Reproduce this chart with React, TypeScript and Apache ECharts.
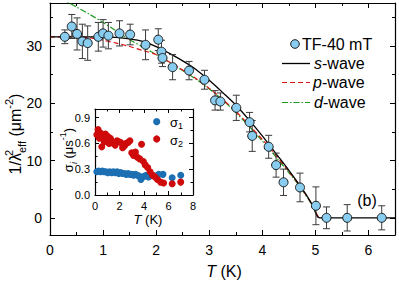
import React, { useEffect, useRef } from "react";
import * as echarts from "echarts";

// Main panel: TF-40 mT data
const T_DATA = [0.28, 0.41, 0.51, 0.61, 0.71, 0.91, 1.0, 1.1, 1.31, 1.51, 1.8, 2.04, 2.1, 2.12, 2.31, 2.62, 2.91, 3.11, 3.21, 3.51, 3.76, 3.81, 4.12, 4.26, 4.4, 4.71, 5.01, 5.21, 5.6, 6.25];
const LAMBDA_DATA = [31.6, 33.4, 32.1, 30.8, 30.5, 31.6, 32.2, 31.8, 32.2, 32.0, 30.2, 31.1, 29.0, 27.9, 26.3, 25.7, 24.1, 20.5, 20.3, 19.2, 16.7, 14.3, 12.4, 9.2, 6.2, 5.3, 2.1, 0, 0, 0];
const LAMBDA_ERR = [1.2, 2.1, 2.8, 3.0, 3.0, 2.5, 2.4, 2.3, 2.2, 1.8, 2.6, 1.9, 2.0, 1.5, 2.2, 1.6, 1.65, 1.7, 1.5, 2.2, 1.7, 2.7, 2.0, 2.1, 2.3, 2.5, 3.3, 1.9, 2.3, 2.1];

// Fit curves
const S_T = [0, 0.5, 1.0, 1.25, 1.5, 1.75, 2.0, 2.25, 2.5, 2.75, 3.0, 3.25, 3.5, 3.75, 4.0, 4.25, 4.5, 4.75, 4.95, 5.08, 6.5];
const S_Y = [31.6, 31.6, 31.6, 31.5, 31.25, 30.8, 29.9, 28.7, 27.4, 25.9, 24.0, 21.9, 19.7, 17.1, 14.3, 11.3, 8.3, 5.1, 2.2, 0, 0];
const P_T = [0, 0.5, 0.75, 1.0, 1.25, 1.5, 1.75, 2.0, 2.25, 2.5, 2.75, 3.0, 3.25, 3.5, 3.75, 4.0, 4.25, 4.5, 4.75, 4.95, 5.06];
const P_Y = [31.6, 31.6, 31.4, 31.0, 30.5, 29.9, 29.2, 28.5, 27.2, 25.8, 24.3, 22.6, 20.7, 18.6, 16.2, 13.7, 11.0, 8.1, 5.0, 2.1, 0];
const D_T = [0, 0.25, 0.5, 0.75, 1.0, 1.25, 1.5, 1.75, 2.0, 2.25, 2.5, 2.75, 3.0, 3.25, 3.5, 3.75, 4.0, 4.25, 4.5, 4.75, 4.95, 5.06];
const D_Y = [39.2, 38.0, 36.8, 35.5, 34.1, 32.6, 31.1, 29.8, 28.5, 27.1, 25.7, 24.2, 22.5, 20.6, 18.4, 16.0, 13.4, 10.7, 7.9, 4.9, 2.0, 0];

// Inset: sigma_1 and sigma_2
const SIG1_T = [0.15, 0.3, 0.45, 0.6, 0.75, 0.9, 1.05, 1.2, 1.35, 1.5, 1.65, 1.8, 1.95, 2.1, 2.25, 2.4, 2.55, 2.7, 2.85, 3.0, 3.15, 3.3, 3.45, 3.6, 3.75, 3.9, 4.05, 4.2, 4.35, 4.5, 4.7, 4.9, 5.2, 5.55, 6.3, 7.0];
const SIG1 = [0.27, 0.28, 0.27, 0.28, 0.27, 0.27, 0.26, 0.27, 0.26, 0.27, 0.26, 0.27, 0.25, 0.26, 0.25, 0.25, 0.24, 0.25, 0.24, 0.24, 0.23, 0.24, 0.23, 0.22, 0.18, 0.21, 0.22, 0.23, 0.21, 0.22, 0.23, 0.22, 0.24, 0.24, 0.2, 0.23];
const SIG2_T = [0.15, 0.25, 0.35, 0.45, 0.55, 0.65, 0.75, 0.85, 0.95, 1.05, 1.15, 1.25, 1.35, 1.5, 1.65, 1.8, 1.95, 2.1, 2.25, 2.4, 2.55, 2.7, 2.85, 3.0, 3.15, 3.3, 3.45, 3.65, 3.8, 3.95, 4.1, 4.3, 4.5, 4.7, 4.9, 5.1, 5.35, 5.6, 6.3, 7.0];
const SIG2 = [0.7, 0.76, 0.66, 0.72, 0.56, 0.69, 0.62, 0.71, 0.66, 0.68, 0.6, 0.66, 0.63, 0.6, 0.58, 0.63, 0.62, 0.61, 0.55, 0.57, 0.6, 0.61, 0.63, 0.49, 0.46, 0.5, 0.44, 0.42, 0.59, 0.39, 0.35, 0.32, 0.27, 0.23, 0.21, 0.18, 0.15, 0.14, 0.13, 0.15];

// Tick values
const MAIN_X_MAJOR = [0, 1, 2, 3, 4, 5, 6];
const MAIN_X_MINOR = [0.5, 1.5, 2.5, 3.5, 4.5, 5.5];
const MAIN_Y_MAJOR = [0, 10, 20, 30];
const MAIN_Y_MINOR = [5, 15, 25, 35];
const INSET_X_MAJOR = [0, 2, 4, 6, 8];
const INSET_X_MINOR = [1, 3, 5, 7];
const INSET_Y_MAJOR = [0, 0.3, 0.6, 0.9];
const INSET_Y_MINOR = [0.15, 0.45, 0.75];

const FONT = "Liberation Sans, Arial, Helvetica, sans-serif";
const AXIS_COLOR = "#000";

function axis(
  kind: "x" | "y",
  grid: number,
  position: string,
  min: number,
  max: number,
  ticks: number[],
  tickLen: number,
  showLine: boolean,
  labels: number[] | null,
  labelOpts: any = {}
) {
  return {
    type: "value",
    gridIndex: grid,
    position,
    min,
    max,
    axisLine: { show: showLine, onZero: false, lineStyle: { color: AXIS_COLOR, width: 1.2 } },
    axisTick: {
      show: true,
      inside: true,
      length: tickLen,
      customValues: ticks,
      lineStyle: { color: AXIS_COLOR, width: 1 },
    },
    axisLabel: labels
      ? { show: true, customValues: labels, color: "#000", fontFamily: FONT, ...labelOpts }
      : { show: false },
    splitLine: { show: false },
    minorTick: { show: false },
  };
}

export default function App() {
  const ref = useRef<HTMLDivElement>(null);
  useEffect(() => {
    const chart = echarts.init(ref.current!, null, { renderer: "svg" });

    const xAxes = [
      axis("x", 0, "bottom", 0, 6.5, MAIN_X_MAJOR, 5, true, MAIN_X_MAJOR, { fontSize: 14, margin: 8 }),
      axis("x", 0, "bottom", 0, 6.5, MAIN_X_MINOR, 3, false, null),
      axis("x", 0, "top", 0, 6.5, MAIN_X_MAJOR, 5, true, null),
      axis("x", 0, "top", 0, 6.5, MAIN_X_MINOR, 3, false, null),
      axis("x", 1, "bottom", 0, 8, INSET_X_MAJOR, 4, true, INSET_X_MAJOR, { fontSize: 11, margin: 5 }),
      axis("x", 1, "bottom", 0, 8, INSET_X_MINOR, 2.5, false, null),
      axis("x", 1, "top", 0, 8, INSET_X_MAJOR, 4, true, null),
      axis("x", 1, "top", 0, 8, INSET_X_MINOR, 2.5, false, null),
    ];
    const yAxes = [
      axis("y", 0, "left", -3, 37.5, MAIN_Y_MAJOR, 5, true, MAIN_Y_MAJOR, { fontSize: 14, margin: 8 }),
      axis("y", 0, "left", -3, 37.5, MAIN_Y_MINOR, 3, false, null),
      axis("y", 0, "right", -3, 37.5, MAIN_Y_MAJOR, 5, true, null),
      axis("y", 0, "right", -3, 37.5, MAIN_Y_MINOR, 3, false, null),
      axis("y", 1, "left", 0, 1.0, INSET_Y_MAJOR, 4, true, INSET_Y_MAJOR, {
        fontSize: 11,
        margin: 5,
        formatter: (v: number) => v.toFixed(1),
      }),
      axis("y", 1, "left", 0, 1.0, INSET_Y_MINOR, 2.5, false, null),
      axis("y", 1, "right", 0, 1.0, INSET_Y_MAJOR, 4, true, null),
      axis("y", 1, "right", 0, 1.0, INSET_Y_MINOR, 2.5, false, null),
    ];

    const zip = (a: number[], b: number[]) => a.map((v, i) => [v, b[i]]);

    const errStyle = { stroke: "#3a3a3a", lineWidth: 1 };

    const option: any = {
      animation: false,
      backgroundColor: "#fff",
      grid: [
        { left: 50, right: 4, top: 3, bottom: 47 },
        { left: 95, top: 109, width: 98, height: 86, show: true, backgroundColor: "#fff", borderWidth: 0 },
      ],
      xAxis: xAxes,
      yAxis: yAxes,
      series: [
        {
          type: "line",
          name: "d-wave",
          xAxisIndex: 0,
          yAxisIndex: 0,
          data: zip(D_T, D_Y),
          showSymbol: false,
          symbol: "none",
          smooth: 0.3,
          clip: true,
          lineStyle: { color: "#1a9a1a", width: 1.2, type: [6, 2, 1.5, 2] },
          z: 2,
        },
        {
          type: "line",
          name: "p-wave",
          xAxisIndex: 0,
          yAxisIndex: 0,
          data: zip(P_T, P_Y),
          showSymbol: false,
          symbol: "none",
          smooth: 0.3,
          lineStyle: { color: "#e01010", width: 1.2, type: [5, 3] },
          z: 3,
        },
        {
          type: "line",
          name: "s-wave",
          xAxisIndex: 0,
          yAxisIndex: 0,
          data: zip(S_T, S_Y),
          showSymbol: false,
          symbol: "none",
          smooth: 0.3,
          lineStyle: { color: "#000", width: 1.3 },
          z: 4,
        },
        {
          type: "custom",
          name: "err",
          xAxisIndex: 0,
          yAxisIndex: 0,
          data: T_DATA.map((t, i) => [t, LAMBDA_DATA[i] - LAMBDA_ERR[i], LAMBDA_DATA[i] + LAMBDA_ERR[i]]),
          encode: { x: 0, y: [1, 2] },
          renderItem: (params: any, api: any) => {
            const x = api.value(0);
            const lo = api.coord([x, api.value(1)]);
            const hi = api.coord([x, api.value(2)]);
            const w = 3.5;
            return {
              type: "group",
              children: [
                { type: "line", shape: { x1: lo[0], y1: lo[1], x2: hi[0], y2: hi[1] }, style: errStyle },
                { type: "line", shape: { x1: lo[0] - w, y1: lo[1], x2: lo[0] + w, y2: lo[1] }, style: errStyle },
                { type: "line", shape: { x1: hi[0] - w, y1: hi[1], x2: hi[0] + w, y2: hi[1] }, style: errStyle },
              ],
            };
          },
          z: 5,
        },
        {
          type: "scatter",
          name: "TF-40 mT",
          xAxisIndex: 0,
          yAxisIndex: 0,
          data: zip(T_DATA, LAMBDA_DATA),
          symbol: "circle",
          symbolSize: 9,
          itemStyle: { color: "#88cdf0", borderColor: "#1a1a1a", borderWidth: 1, opacity: 1 },
          z: 6,
        },
        {
          type: "scatter",
          name: "σ1",
          xAxisIndex: 4,
          yAxisIndex: 4,
          data: zip(SIG1_T, SIG1),
          symbol: "circle",
          symbolSize: 7,
          itemStyle: { color: "#1c6fb2", opacity: 1 },
          z: 6,
        },
        {
          type: "scatter",
          name: "σ2",
          xAxisIndex: 4,
          yAxisIndex: 4,
          data: zip(SIG2_T, SIG2),
          symbol: "circle",
          symbolSize: 7,
          itemStyle: { color: "#cf0a0a", opacity: 1 },
          z: 7,
        },
      ],
      graphic: [
        // main x title
        {
          type: "text",
          x: 224,
          y: 271,
          style: {
            text: "{i|T} (K)",
            align: "center",
            verticalAlign: "middle",
            fontSize: 16,
            fontFamily: FONT,
            fill: "#000",
            rich: { i: { fontStyle: "italic", fontSize: 16, fontFamily: FONT } },
          },
        },
        // main y title
        {
          type: "text",
          x: 15,
          y: 134,
          rotation: Math.PI / 2,
          style: {
            text: "{n|1/λ}{sup|2}{sub|eff}{n| (μm}{sup2|-2}{n|)}",
            align: "center",
            verticalAlign: "middle",
            fontFamily: FONT,
            fill: "#000",
            rich: {
              n: { fontSize: 16, fontFamily: FONT, lineHeight: 24, verticalAlign: "middle" },
              sup: { fontSize: 11, fontFamily: FONT, width: 0, lineHeight: 11, verticalAlign: "top" },
              sub: { fontSize: 11, fontFamily: FONT, lineHeight: 11, verticalAlign: "bottom" },
              sup2: { fontSize: 11, fontFamily: FONT, lineHeight: 11, verticalAlign: "top" },
            },
          },
        },
        // inset x title
        {
          type: "text",
          x: 148,
          y: 219,
          style: {
            text: "{i|T} (K)",
            align: "center",
            verticalAlign: "middle",
            fontSize: 13,
            fontFamily: FONT,
            fill: "#000",
            rich: { i: { fontStyle: "italic", fontSize: 13, fontFamily: FONT } },
          },
        },
        // inset y title
        {
          type: "text",
          x: 68,
          y: 150,
          rotation: Math.PI / 2,
          style: {
            text: "{n|σ}{sub|i}{n| (μs}{sup|-1}{n|)}",
            align: "center",
            verticalAlign: "middle",
            fontFamily: FONT,
            fill: "#000",
            rich: {
              n: { fontSize: 13, fontFamily: FONT, lineHeight: 20, verticalAlign: "middle" },
              sub: { fontSize: 9, fontFamily: FONT, fontStyle: "italic", lineHeight: 9, verticalAlign: "bottom" },
              sup: { fontSize: 9, fontFamily: FONT, lineHeight: 9, verticalAlign: "top" },
            },
          },
        },
        // (b)
        {
          type: "text",
          x: 367,
          y: 200,
          style: { text: "(b)", align: "center", verticalAlign: "middle", fontSize: 16, fontFamily: FONT, fill: "#000" },
        },
        // main legend
        {
          type: "circle",
          shape: { cx: 295, cy: 44, r: 4.3 },
          style: { fill: "#88cdf0", stroke: "#1a1a1a", lineWidth: 1 },
          z: 10,
        },
        {
          type: "text",
          x: 302,
          y: 44,
          style: { text: "TF-40 mT", align: "left", verticalAlign: "middle", fontSize: 16, fontFamily: FONT, fill: "#000" },
          z: 10,
        },
        {
          type: "line",
          shape: { x1: 282, y1: 63.5, x2: 310, y2: 63.5 },
          style: { stroke: "#000", lineWidth: 1.3 },
          z: 10,
        },
        {
          type: "text",
          x: 314,
          y: 63.5,
          style: {
            text: "{i|s}-wave",
            align: "left",
            verticalAlign: "middle",
            fontSize: 16,
            fontFamily: FONT,
            fill: "#000",
            rich: { i: { fontStyle: "italic", fontSize: 16, fontFamily: FONT } },
          },
          z: 10,
        },
        {
          type: "line",
          shape: { x1: 282, y1: 82.5, x2: 310, y2: 82.5 },
          style: { stroke: "#e01010", lineWidth: 1.2, lineDash: [5, 3] },
          z: 10,
        },
        {
          type: "text",
          x: 313,
          y: 82.5,
          style: {
            text: "{i|p}-wave",
            align: "left",
            verticalAlign: "middle",
            fontSize: 16,
            fontFamily: FONT,
            fill: "#000",
            rich: { i: { fontStyle: "italic", fontSize: 16, fontFamily: FONT } },
          },
          z: 10,
        },
        {
          type: "line",
          shape: { x1: 282, y1: 102.5, x2: 310, y2: 102.5 },
          style: { stroke: "#1a9a1a", lineWidth: 1.2, lineDash: [6, 2, 1.5, 2] },
          z: 10,
        },
        {
          type: "text",
          x: 314,
          y: 102.5,
          style: {
            text: "{i|d}-wave",
            align: "left",
            verticalAlign: "middle",
            fontSize: 16,
            fontFamily: FONT,
            fill: "#000",
            rich: { i: { fontStyle: "italic", fontSize: 16, fontFamily: FONT } },
          },
          z: 10,
        },
        // inset legend
        {
          type: "circle",
          shape: { cx: 156.7, cy: 121.7, r: 3.6 },
          style: { fill: "#1c6fb2" },
          z: 10,
        },
        {
          type: "text",
          x: 170,
          y: 122.5,
          style: {
            text: "{n|σ}{sub|1}",
            align: "left",
            verticalAlign: "middle",
            fontFamily: FONT,
            fill: "#000",
            rich: {
              n: { fontSize: 13, fontFamily: FONT, lineHeight: 16, verticalAlign: "middle" },
              sub: { fontSize: 9, fontFamily: FONT, lineHeight: 9, verticalAlign: "bottom" },
            },
          },
          z: 10,
        },
        {
          type: "circle",
          shape: { cx: 156.7, cy: 139, r: 3.6 },
          style: { fill: "#cf0a0a" },
          z: 10,
        },
        {
          type: "text",
          x: 170,
          y: 140,
          style: {
            text: "{n|σ}{sub|2}",
            align: "left",
            verticalAlign: "middle",
            fontFamily: FONT,
            fill: "#000",
            rich: {
              n: { fontSize: 13, fontFamily: FONT, lineHeight: 16, verticalAlign: "middle" },
              sub: { fontSize: 9, fontFamily: FONT, lineHeight: 9, verticalAlign: "bottom" },
            },
          },
          z: 10,
        },
      ],
    };

    chart.setOption(option);
    return () => chart.dispose();
  }, []);

  return (
    <div
      ref={ref}
      style={{ position: "fixed", left: 0, top: 0, width: 399, height: 282, background: "#fff" }}
    />
  );
}
